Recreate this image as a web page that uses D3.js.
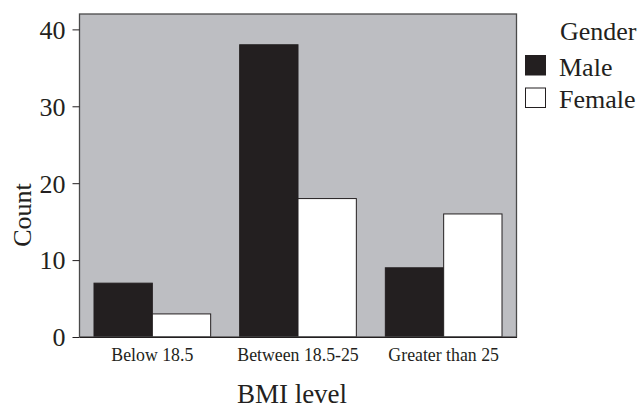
<!DOCTYPE html>
<html><head><meta charset="utf-8">
<script src="https://cdn.jsdelivr.net/npm/d3@7"></script>
<style>body{margin:0;background:#fff}svg{display:block}</style>
</head><body><svg id="c" width="639" height="409"></svg>
<script>
const categories = ["Below 18.5", "Between 18.5-25", "Greater than 25"];
const series = ["Male", "Female"];
const maleValues = [7, 38, 9];
const femaleValues = [3, 18, 16];
const yTicks = [0, 10, 20, 30, 40];
const colors = {Male: "#231f20", Female: "#ffffff"};

const svg = d3.select("#c");
const font = "'Liberation Serif', 'Times New Roman', serif";
const ink = "#231f20";
const m = {left: 79.5, right: 516.5, top: 14, bottom: 337};

const x = d3.scaleBand().domain(categories).range([m.left, m.right]).paddingInner(0).paddingOuter(0);
const xs = d3.scaleBand().domain(series).range([14.5, x.bandwidth() - 14.5]);
const y = d3.scaleLinear().domain([0, 42]).range([m.bottom, m.top]);

svg.append("rect").attr("x", m.left).attr("y", m.top).attr("width", m.right - m.left).attr("height", m.bottom - m.top)
  .attr("fill", "#bdbec2");

const data = categories.map((c, i) => ({c, vals: [{s: "Male", v: maleValues[i]}, {s: "Female", v: femaleValues[i]}]}));
const g = svg.selectAll("g.grp").data(data).join("g").attr("transform", d => `translate(${x(d.c)},0)`);
g.selectAll("rect").data(d => d.vals).join("rect")
  .attr("x", d => xs(d.s)).attr("width", xs.bandwidth())
  .attr("y", d => y(d.v)).attr("height", d => y(0) - y(d.v))
  .attr("fill", d => colors[d.s]).attr("stroke", ink).attr("stroke-width", 1);

svg.append("rect").attr("x", m.left).attr("y", m.top).attr("width", m.right - m.left).attr("height", m.bottom - m.top)
  .attr("fill", "none").attr("stroke", "#4a4a4a").attr("stroke-width", 1.3);

const ya = svg.append("g").attr("transform", `translate(${m.left},0)`)
  .call(d3.axisLeft(y).tickValues(yTicks).tickSize(7).tickPadding(7));
ya.select(".domain").remove();
ya.selectAll("line").attr("stroke", ink);
ya.selectAll("text").attr("font-family", font).attr("font-size", 26).attr("fill", ink).attr("dy", "0.34em");

const xa = svg.append("g").attr("transform", `translate(0,${m.bottom})`)
  .call(d3.axisBottom(x).tickSize(0).tickPadding(11));
xa.select(".domain").attr("stroke", ink);
xa.selectAll("text").attr("font-family", font).attr("font-size", 17.8).attr("fill", ink);

svg.append("text").attr("x", (m.left + m.right) / 2 - 6).attr("y", 403).attr("text-anchor", "middle")
  .attr("font-family", font).attr("font-size", 27).attr("fill", ink).text("BMI level");
svg.append("text").attr("transform", "translate(31,215) rotate(-90)").attr("text-anchor", "middle")
  .attr("font-family", font).attr("font-size", 26).attr("fill", ink).text("Count");

const lg = svg.append("g");
lg.append("text").attr("x", 560).attr("y", 40).attr("font-family", font).attr("font-size", 26).attr("fill", ink).text("Gender");
series.forEach((s, i) => {
  const yy = 55.5 + i * 32.5;
  lg.append("rect").attr("x", 525.5).attr("y", yy).attr("width", 20).attr("height", 19.5)
    .attr("fill", colors[s]).attr("stroke", ink).attr("stroke-width", 1);
  lg.append("text").attr("x", 559).attr("y", yy + 20).attr("font-family", font).attr("font-size", 26).attr("fill", ink).text(s);
});
</script></body></html>
